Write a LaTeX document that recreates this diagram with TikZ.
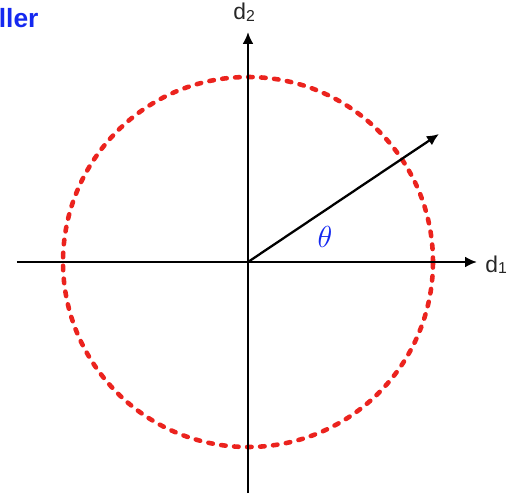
\documentclass[tikz,border=0pt]{standalone}
\usepackage{fontspec}
\setmainfont{Liberation Sans}
\usetikzlibrary{arrows.meta}
\definecolor{ringred}{RGB}{235,35,30}
\definecolor{labelblue}{RGB}{20,40,240}
\newcommand{\axisname}[2]{#1\raisebox{-1pt}{\fontsize{9}{10}\selectfont #2}}
\tikzset{
  axis/.style={line width=1.3pt, draw=black, -{Latex[length=0.24cm, width=0.22cm]}},
  ring/.style={line width=2.6pt, draw=ringred, line cap=round, dash pattern=on 0.09cm off 0.17cm},
  axislabel/.style={font=\fontsize{13}{15}\selectfont, text=black!85, inner sep=0pt, anchor=base west},
  anglelabel/.style={text=labelblue, font=\fontsize{16}{18}\selectfont, inner sep=0pt},
  titlelabel/.style={text=labelblue, font=\fontsize{15}{17}\selectfont\bfseries, inner sep=0pt, anchor=base west},
}

\begin{document}
\begin{tikzpicture}
\useasboundingbox (-4.96,-4.66) rectangle (5.20,5.24);
\coordinate (o) at (0,0);
\coordinate (xl) at (-4.62,0);
\coordinate (xr) at (4.58,0);
\coordinate (yb) at (0,-4.62);
\coordinate (yt) at (0,4.60);
\coordinate (vtip) at (3.82,2.56);
\draw[ring] (o) circle (3.70);
\draw[axis] (xl) -- (xr);
\draw[axis] (yb) -- (yt);
\draw[axis] (o) -- (vtip);
\node[axislabel] (dtwo) at (-0.30,4.85) {\axisname{d}{2}};
\node[axislabel] (done) at (4.74,-0.20) {\axisname{d}{1}};
\node[anglelabel] (theta) at (1.54,0.50) {$\theta$};
\node[titlelabel] (title) at (-4.99,4.68) {ller};
\end{tikzpicture}
\end{document}
